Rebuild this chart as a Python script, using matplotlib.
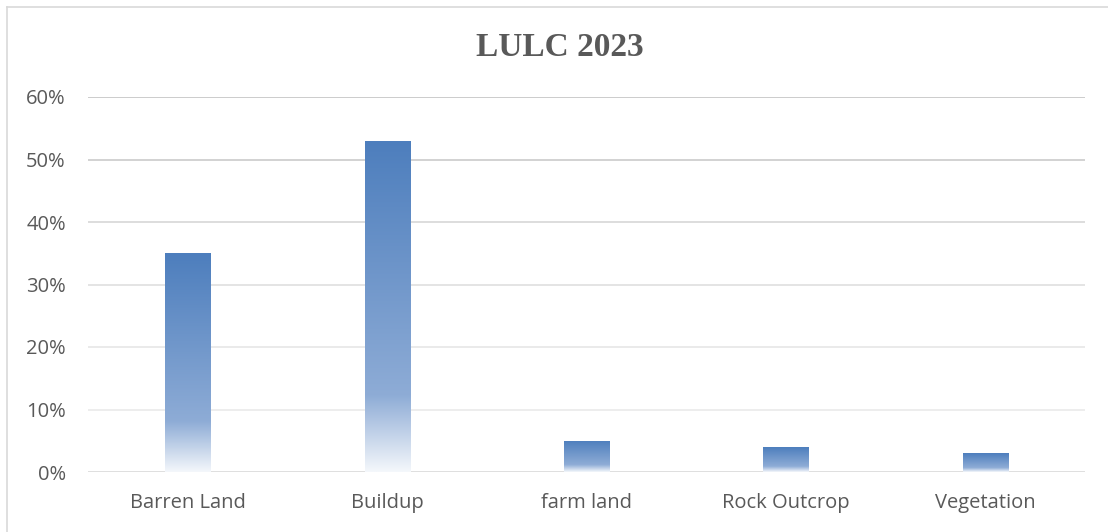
import matplotlib.pyplot as plt
import numpy as np
from matplotlib.colors import LinearSegmentedColormap
from matplotlib.lines import Line2D
from matplotlib.ticker import PercentFormatter

categories = ['Barren Land', 'Buildup', 'farm land', 'Rock Outcrop', 'Vegetation']
shares = [0.35, 0.53, 0.05, 0.04, 0.03]
yticks = [0.0, 0.1, 0.2, 0.3, 0.4, 0.5, 0.6]

W, H = 1108, 532
fig = plt.figure(figsize=(W / 100, H / 100), dpi=100)
ax = fig.add_axes([88 / W, (H - 472) / H, (1085 - 88) / W, (472 - 97) / H])

x = np.arange(len(categories))
bars = ax.bar(x, shares, width=0.226, color='none', zorder=3)

# blue-to-white vertical fill for each bar (top is darkest)
grad = LinearSegmentedColormap.from_list(
    'barfill', [(0.0, '#f4f7fb'), (0.23, '#8eacd6'), (1.0, '#4d7ebd')])
ramp = np.linspace(0, 1, 256).reshape(-1, 1)
for b in bars:
    x0, y0 = b.get_x(), b.get_y()
    im = ax.imshow(ramp, cmap=grad, aspect='auto', origin='lower',
                   extent=[x0, x0 + b.get_width(), y0, y0 + b.get_height()],
                   zorder=3, interpolation='bilinear')
    im.set_clip_path(b)

ax.set_xlim(-0.5, len(categories) - 0.5)
ax.set_ylim(0, 0.6)
ax.set_yticks(yticks)
ax.yaxis.set_major_formatter(PercentFormatter(1.0, decimals=0))
ax.set_xticks(x)
ax.set_xticklabels(categories)

# gridlines get lighter toward the baseline
grid_cols = ['#dcdcdc', '#ececec', '#e8e8e8', '#e2e2e2', '#dadada', '#cfcfcf', '#c8c8c8']
for yv, c in zip(yticks, grid_cols):
    ax.axhline(yv, color=c, lw=1.3, zorder=1)

for s in ax.spines.values():
    s.set_visible(False)
ax.tick_params(length=0, labelsize=14.5, labelcolor='#595959')
ax.tick_params(axis='y', pad=16)
ax.tick_params(axis='x', pad=15)
for lab in ax.get_xticklabels() + ax.get_yticklabels():
    lab.set_family('Open Sans')

fig.text(560 / W, 1 - 48 / H, 'LULC 2023', ha='center', va='center',
         family='Liberation Serif', fontweight='bold', fontsize=24, color='#595959')

# chart frame, only the top and left edges fall inside the image
fig.add_artist(Line2D([7 / W, 1], [1 - 7 / H, 1 - 7 / H], color='#d9d9d9', lw=1.2))
fig.add_artist(Line2D([7 / W, 7 / W], [0, 1 - 7 / H], color='#d9d9d9', lw=1.2))

fig.savefig('out.png', dpi=100)
